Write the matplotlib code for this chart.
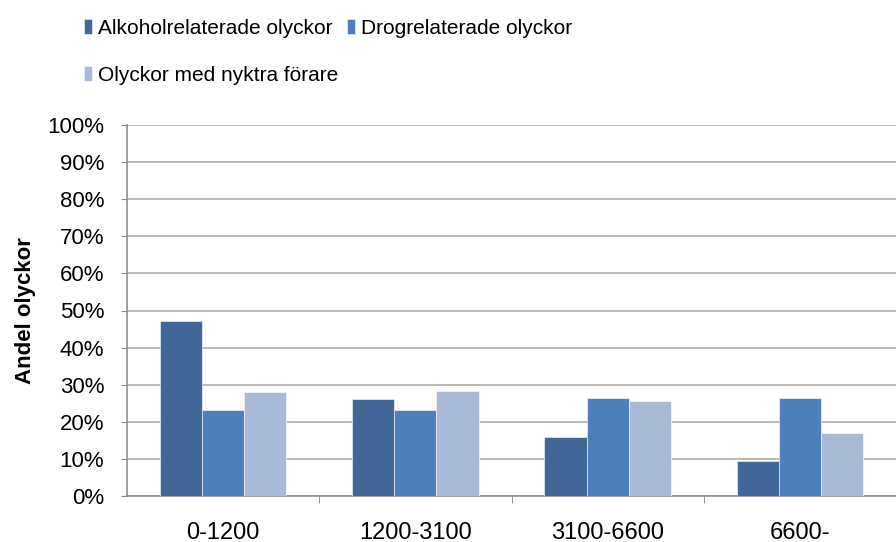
import numpy as np
import matplotlib
matplotlib.use("Agg")
import matplotlib.pyplot as plt
from matplotlib.ticker import PercentFormatter, FixedLocator

plt.rcParams['font.family'] = ['Liberation Sans', 'DejaVu Sans']

categories = ["0-1200", "1200-3100", "3100-6600", "6600-"]
series_names = ["Alkoholrelaterade olyckor", "Drogrelaterade olyckor",
                "Olyckor med nyktra förare"]
alkohol = [47.3, 26.2, 15.9, 9.4]
drog = [23.2, 23.2, 26.3, 26.3]
nyktra = [28.0, 28.3, 25.6, 17.0]
colors = ["#3f6899", "#4c7fbb", "#a9b9d8"]

fig = plt.figure(figsize=(8.96, 5.42), dpi=100)
ax = fig.add_axes([127 / 896, 46 / 542, (896 - 127) / 896, (496 - 125) / 542])

x = np.arange(len(categories))
w = 0.219
bars = []
for i, (vals, name) in enumerate(zip([alkohol, drog, nyktra], series_names)):
    b = ax.bar(x + (i - 1) * w, vals, width=w, color=colors[i], label=name,
               edgecolor="white", linewidth=0.4, zorder=3)
    bars.append(b)

ax.set_xlim(-0.5, len(categories) - 0.5)
ax.set_ylim(0, 100)
ax.set_yticks(np.arange(0, 101, 10))
ax.yaxis.set_major_formatter(PercentFormatter(decimals=0))
ax.grid(axis="y", color="#a6a6a6", linewidth=1.1, zorder=0)

ax.set_xticks(x)
ax.set_xticklabels(categories)
ax.xaxis.set_minor_locator(FixedLocator(x[:-1] + 0.5))
ax.tick_params(axis="x", which="major", length=0, pad=18.5, labelsize=17)
ax.tick_params(axis="x", which="minor", length=5, color="#868686")
ax.tick_params(axis="y", length=4.3, color="#868686", labelsize=16, pad=12)

for s in ["top", "right"]:
    ax.spines[s].set_visible(False)
for s in ["left", "bottom"]:
    ax.spines[s].set_color("#868686")
    ax.spines[s].set_linewidth(1.1)

ax.set_ylabel("Andel olyckor", fontsize=16, fontweight="bold")
ax.yaxis.set_label_coords(-91 / 769, 0.5)

handles = [bars[0], bars[2], bars[1]]
labels = [series_names[0], series_names[2], series_names[1]]
fig.legend(handles, labels, ncol=2, loc="upper left",
           bbox_to_anchor=(65 / 896, 1 - 0 / 542), frameon=False,
           fontsize=15,
           handlelength=0.4, handleheight=0.75, handletextpad=0.3,
           columnspacing=0.4, labelspacing=1.35)

fig.savefig("out.png", dpi=100)
